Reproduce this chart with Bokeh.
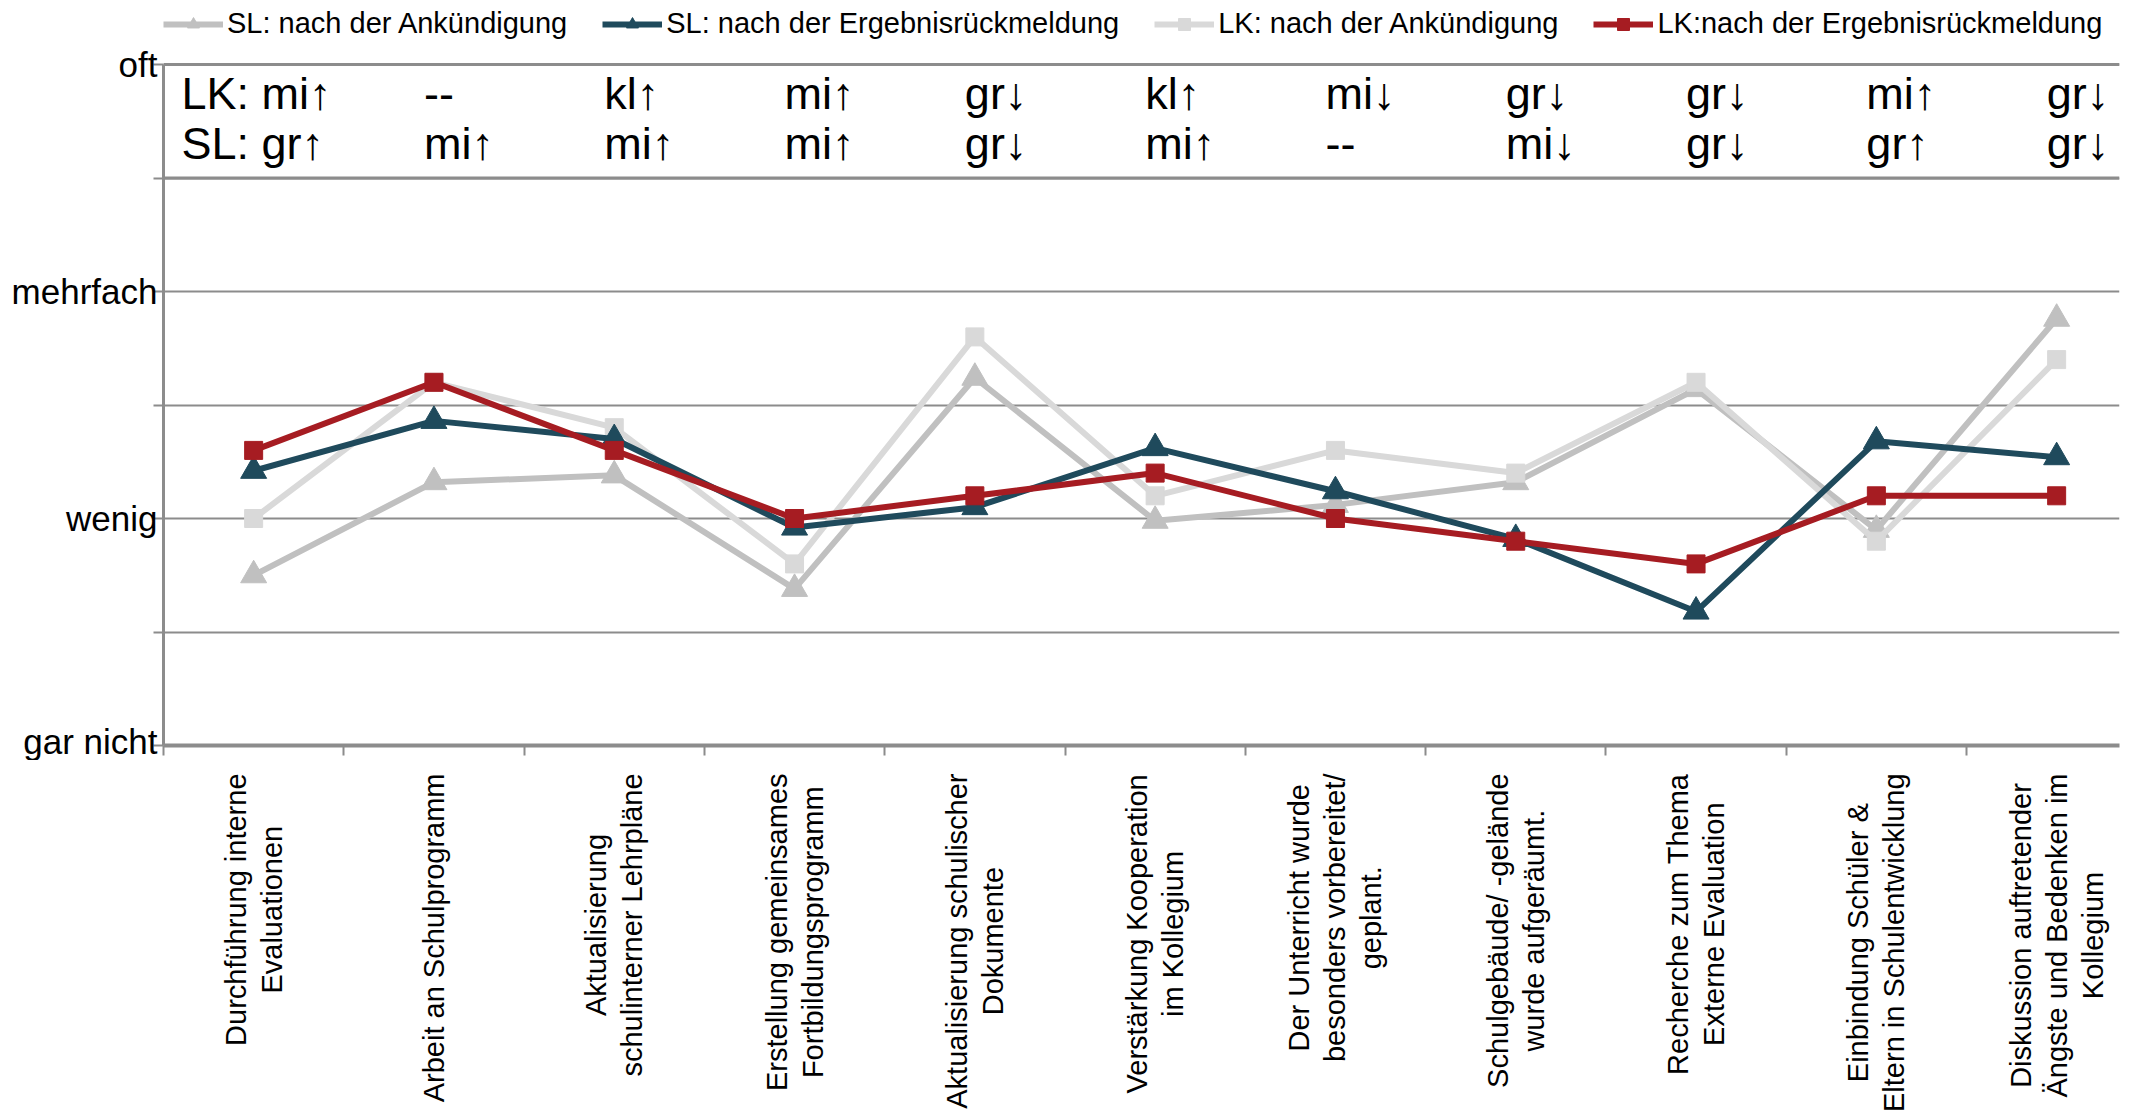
import math
from bokeh.plotting import figure
from bokeh.layouts import column
from bokeh.models import (Range1d, FixedTicker, Legend, LegendItem,
                          ColumnDataSource, Span)
from bokeh.core.properties import value
from bokeh.embed import file_html
from bokeh.resources import INLINE

# ---------------- data ----------------
categories = [
    ["Durchführung interne", "Evaluationen"],
    ["Arbeit an Schulprogramm"],
    ["Aktualisierung", "schulinterner Lehrpläne"],
    ["Erstellung gemeinsames", "Fortbildungsprogramm"],
    ["Aktualisierung schulischer", "Dokumente"],
    ["Verstärkung Kooperation", "im Kollegium"],
    ["Der Unterricht wurde", "besonders vorbereitet/", "geplant."],
    ["Schulgebäude/ -gelände", "wurde aufgeräumt."],
    ["Recherche zum Thema", "Externe Evaluation"],
    ["Einbindung Schüler &", "Eltern in Schulentwicklung"],
    ["Diskussion auftretender", "Ängste und Bedenken im", "Kollegium"],
]
y_tick_labels = {0: "gar nicht", 1: "wenig", 2: "mehrfach", 3: "oft"}

sl_ank = [0.75, 1.16, 1.19, 0.69, 1.62, 0.99, 1.06, 1.16, 1.57, 0.95, 1.88]
sl_erg = [1.21, 1.43, 1.35, 0.96, 1.05, 1.31, 1.12, 0.91, 0.59, 1.34, 1.27]
lk_ank = [1.00, 1.60, 1.40, 0.80, 1.80, 1.10, 1.30, 1.20, 1.60, 0.90, 1.70]
lk_erg = [1.30, 1.60, 1.30, 1.00, 1.10, 1.20, 1.00, 0.90, 0.80, 1.10, 1.10]

lk_change = ["mi↑", "--", "kl↑", "mi↑", "gr↓", "kl↑", "mi↓", "gr↓", "gr↓", "mi↑", "gr↓"]
sl_change = ["gr↑", "mi↑", "mi↑", "mi↑", "gr↓", "mi↑", "--", "mi↓", "gr↓", "gr↑", "gr↓"]

series_names = ["SL: nach der Ankündigung", "SL: nach der Ergebnisrückmeldung",
                "LK: nach der Ankündigung", "LK:nach der Ergebnisrückmeldung"]

# ---------------- layout constants ----------------
W, H = 2132, 1112
FL, FR, FT, FB = 163, 2119, 64, 745          # plotting-area edges in px
MAIN_H = 760
LBL_H = H - MAIN_H
YMAX = 3
PX_PER_Y = (FB - FT) / YMAX
Y_TOP = YMAX + FT / PX_PER_Y                 # frame extends to top of page (legend band)
CAT_W = 180.3
XMAX = (FR - FL) / CAT_W
FONT = "Liberation Sans"
GRID = "#8c8c8c"

C_SL_ANK = "#c0c0c0"
C_SL_ERG = "#1f4a5c"
C_LK_ANK = "#d9d9d9"
C_LK_ERG = "#a61c22"

n = len(categories)
xc = [i + 0.5 for i in range(n)]

p = figure(width=W, height=MAIN_H, output_backend="svg", toolbar_location=None,
           x_range=Range1d(0, XMAX), y_range=Range1d(0, Y_TOP),
           min_border_left=FL, min_border_right=W - FR,
           min_border_top=0, min_border_bottom=MAIN_H - FB)
p.outline_line_color = None
p.background_fill_color = "white"
p.border_fill_color = "white"

# axes
yt = FixedTicker(ticks=[k * 0.5 for k in range(7)])
p.yaxis.ticker = yt
p.yaxis.bounds = (0, YMAX)
ov = {}
for k in range(7):
    v = k * 0.5
    ov[v] = y_tick_labels.get(int(v), "") if v == int(v) else ""
p.yaxis.major_label_overrides = ov
p.yaxis.major_label_text_font = FONT
p.yaxis.major_label_text_font_size = "35px"
p.yaxis.major_label_text_color = "black"
p.yaxis.major_label_standoff = -4
p.yaxis.axis_line_color = GRID
p.yaxis.axis_line_width = 3
p.yaxis.major_tick_line_color = GRID
p.yaxis.major_tick_line_width = 2
p.yaxis.major_tick_out = 10
p.yaxis.major_tick_in = 0
p.yaxis.minor_tick_line_color = None

p.xaxis.ticker = FixedTicker(ticks=list(range(n)))
p.xaxis.major_label_overrides = {i: "" for i in range(n)}
p.xaxis.axis_line_color = GRID
p.xaxis.axis_line_width = 4
p.xaxis.major_tick_line_color = GRID
p.xaxis.major_tick_line_width = 2
p.xaxis.major_tick_out = 10
p.xaxis.major_tick_in = 0
p.xaxis.minor_tick_line_color = None

p.xgrid.visible = False
p.ygrid.ticker = yt
p.ygrid.grid_line_color = GRID
p.ygrid.grid_line_width = 2

for loc in (2.5, 3.0):
    p.add_layout(Span(location=loc, dimension="width", line_color=GRID, line_width=3))

# series
LW = 6
TRI, SQ = 26, 18
r1l = p.line(xc, sl_ank, line_color=C_SL_ANK, line_width=LW)
r1m = p.scatter(xc, sl_ank, marker="triangle", size=TRI, color=C_SL_ANK)
r3l = p.line(xc, lk_ank, line_color=C_LK_ANK, line_width=LW)
r3m = p.scatter(xc, lk_ank, marker="square", size=SQ, color=C_LK_ANK)
r2l = p.line(xc, sl_erg, line_color=C_SL_ERG, line_width=LW)
r2m = p.scatter(xc, sl_erg, marker="triangle", size=TRI, color=C_SL_ERG)
r4l = p.line(xc, lk_erg, line_color=C_LK_ERG, line_width=LW)
r4m = p.scatter(xc, lk_erg, marker="square", size=SQ, color=C_LK_ERG)

legend = Legend(items=[
    LegendItem(label=series_names[0], renderers=[r1l, r1m]),
    LegendItem(label=series_names[1], renderers=[r2l, r2m]),
    LegendItem(label=series_names[2], renderers=[r3l, r3m]),
    LegendItem(label=series_names[3], renderers=[r4l, r4m]),
], orientation="horizontal", location=(0, FB - 40))
legend.label_text_font = FONT
legend.label_text_font_size = "29px"
legend.label_text_color = "black"
legend.glyph_width = 60
legend.glyph_height = 30
legend.spacing = 35
legend.label_standoff = 4
legend.padding = 2
legend.margin = 0
legend.border_line_color = None
legend.background_fill_alpha = 0
p.add_layout(legend)

# change annotations in top band
row_y = [YMAX - (93 - FT) / PX_PER_Y, YMAX - (143 - FT) / PX_PER_Y]
ax, ay, at, axo = [], [], [], []
for i in range(n):
    for prefix, vals, yy in (("LK: ", lk_change, row_y[0]), ("SL: ", sl_change, row_y[1])):
        if i == 0:
            ax.append(0.0); axo.append(18); at.append(prefix + vals[i])
        else:
            ax.append(xc[i]); axo.append(-10); at.append(vals[i])
        ay.append(yy)
ann_src = ColumnDataSource(dict(x=ax, y=ay, t=at, xo=axo))
p.text(x="x", y="y", text="t", x_offset="xo", source=ann_src,
       text_font=value(FONT), text_font_size="45px", text_color="black",
       text_align="left", text_baseline="alphabetic")

# ---------------- rotated category labels in a strip below ----------------
AW = {" ": 278, "&": 667, "-": 333, ".": 278, "/": 278, ":": 278,
      "A": 667, "B": 667, "D": 722, "E": 667, "F": 611, "K": 667, "L": 556,
      "O": 778, "R": 722, "S": 667, "T": 611, "U": 722, "V": 667, "Ä": 667,
      "a": 556, "b": 556, "c": 500, "d": 556, "e": 556, "f": 278, "g": 556,
      "h": 556, "i": 222, "k": 500, "l": 222, "m": 833, "n": 556, "o": 556,
      "p": 556, "r": 333, "s": 500, "t": 278, "u": 556, "v": 500, "w": 722,
      "x": 500, "z": 500, "ä": 556, "ü": 556}
LBL_PX = 29
LINE_SP = 36
TOP = 773 - MAIN_H     # top of text blocks within the strip (px)


def text_len(s):
    return sum(AW.get(ch, 556) for ch in s) / 1000.0 * LBL_PX


lx, ly, lt, lxo = [], [], [], []
for i, lines in enumerate(categories):
    L = max(text_len(s) for s in lines)
    m = len(lines)
    for k, s in enumerate(lines):
        lx.append(xc[i]); lt.append(s)
        lxo.append((k - (m - 1) / 2) * LINE_SP)
        ly.append(TOP + L / 2)
lbl_src = ColumnDataSource(dict(x=lx, y=ly, t=lt, xo=lxo))

p2 = figure(width=W, height=LBL_H, output_backend="svg", toolbar_location=None,
            x_range=p.x_range, y_range=Range1d(LBL_H, 0),
            x_axis_type=None, y_axis_type=None,
            min_border_left=FL, min_border_right=W - FR,
            min_border_top=0, min_border_bottom=0)
p2.outline_line_color = None
p2.grid.visible = False
p2.background_fill_color = "white"
p2.border_fill_color = "white"
p2.text(x="x", y="y", text="t", x_offset="xo", source=lbl_src,
        angle=90, angle_units="deg",
        text_font=value(FONT), text_font_size=f"{LBL_PX}px", text_color="black",
        text_align="center", text_baseline="middle")

layout = column(p, p2, spacing=0)
open("out.html", "w").write(file_html(layout, INLINE))
